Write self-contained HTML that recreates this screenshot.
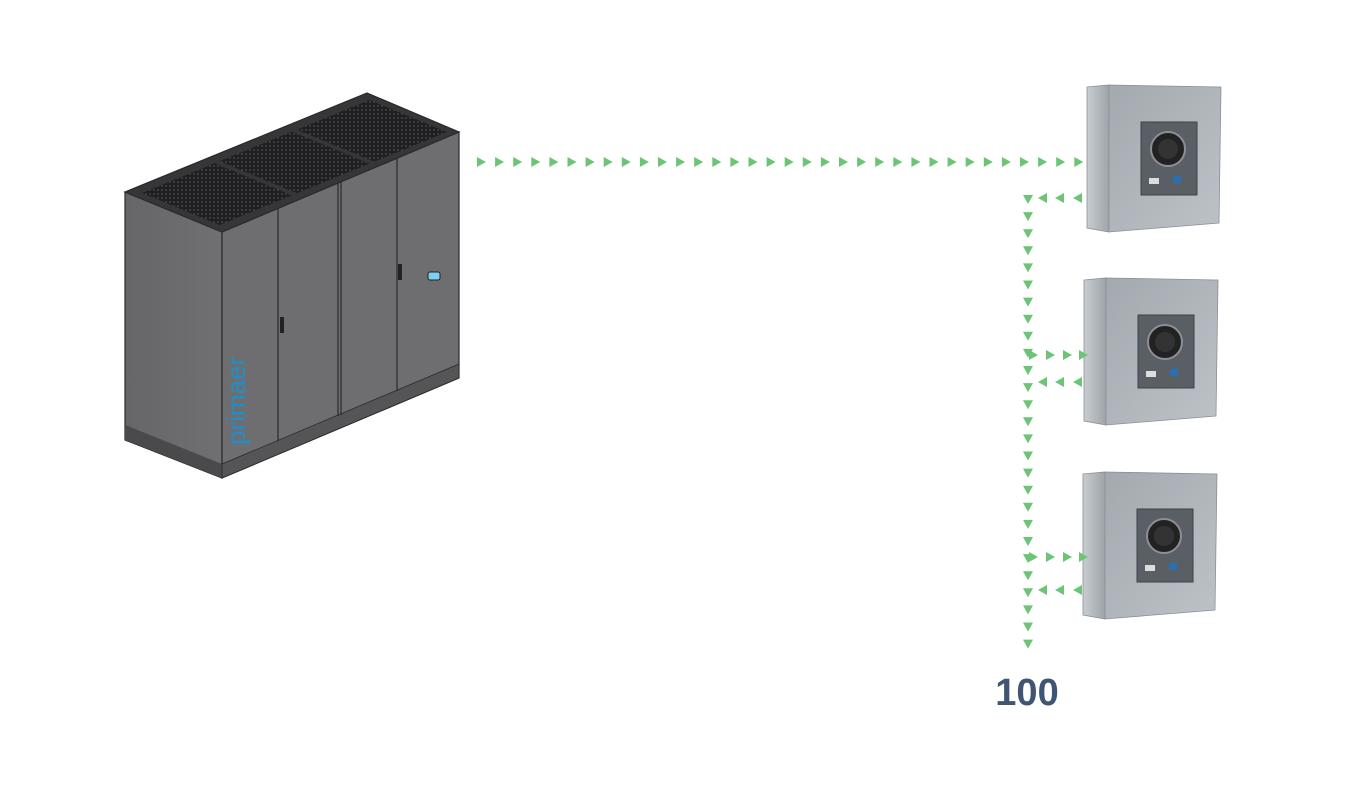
<!DOCTYPE html>
<html><head><meta charset="utf-8"><style>
html,body{margin:0;padding:0;background:#fff;width:1350px;height:805px;overflow:hidden}
svg{display:block}
</style></head><body>
<svg id="s" width="1350" height="805" viewBox="0 0 1350 805" xmlns="http://www.w3.org/2000/svg">
<defs>
<pattern id="grill" width="4" height="4" patternUnits="userSpaceOnUse">
<rect width="4" height="4" fill="#1f1f21"/><rect x="1" y="1" width="2" height="2" fill="#3c3c3f"/>
</pattern>
<linearGradient id="side" x1="0" y1="0" x2="1" y2="0"><stop offset="0" stop-color="#666669"/><stop offset="1" stop-color="#707073"/></linearGradient>
<linearGradient id="uf" x1="0" y1="0" x2="1" y2="1"><stop offset="0" stop-color="#a3a9ae"/><stop offset="1" stop-color="#bcc2c7"/></linearGradient>
<linearGradient id="us" x1="0" y1="0" x2="1" y2="0"><stop offset="0" stop-color="#c8cdd1"/><stop offset="1" stop-color="#9ea4a9"/></linearGradient>
<g id="unit">
<polygon points="0,2 22,0 22,147 0,143" fill="url(#us)" stroke="#8a9096" stroke-width="0.8"/>
<polygon points="22,0 134,2 132,138 22,147" fill="url(#uf)" stroke="#8a9096" stroke-width="0.8"/>
<rect x="54" y="37" width="56" height="73" fill="#5a5f66" stroke="#3e4248"/>
<circle cx="81" cy="64" r="17" fill="#222" stroke="#8c9096" stroke-width="2"/>
<circle cx="81" cy="64" r="10" fill="#333"/>
<rect x="62" y="93" width="10" height="6" fill="#ddd"/>
<rect x="86" y="91" width="8" height="7" fill="#2a6fb0"/>
</g>
</defs>
<polygon points="125,192 222,232 222,478 125,440" fill="url(#side)" stroke="#2a2a2a" stroke-width="1.2"/>
<polygon points="222,232 459,132 459,378 222,478" fill="#6e6e71" stroke="#2a2a2a" stroke-width="1.2"/>
<polygon points="125,192 367,93 459,132 222,232" fill="#363638" stroke="#2a2a2a" stroke-width="1.2"/>
<g id="gr"></g>
<polygon points="125,425 222,464 222,478 125,440" fill="#4a4a4c"/>
<polygon points="222,464 459,364 459,378 222,478" fill="#555557" stroke="#2a2a2a" stroke-width="0.8"/>
<g stroke="#2a2a2a" stroke-width="1.2">
<line x1="278" y1="208" x2="278" y2="441"/>
<line x1="338" y1="183" x2="338" y2="416"/>
<line x1="341" y1="182" x2="341" y2="415"/>
<line x1="397" y1="158" x2="397" y2="391"/>
</g>
<rect x="280" y="317" width="4" height="16" fill="#222"/>
<rect x="398" y="264" width="4" height="16" fill="#222"/>
<rect x="428" y="272" width="12" height="8" rx="2" fill="#7fd0f0" stroke="#222"/>
<text transform="translate(245,445) rotate(-90)" font-family="Liberation Sans, sans-serif" font-size="26" fill="#1f8fc8">primaer</text>
<use href="#unit" x="1087" y="85"/>
<use href="#unit" x="1084" y="278"/>
<use href="#unit" x="1083" y="472"/>
<text x="1027" y="705" text-anchor="middle" font-family="Liberation Sans, sans-serif" font-weight="bold" font-size="38" fill="#3f5572">100</text>
<g id="arr" fill="#6cc477"></g>
</svg>
<script>
var g=document.getElementById('arr'),h='';
function R(x,y){h+='<polygon points="'+(x-4)+','+(y-5)+' '+(x+5)+','+y+' '+(x-4)+','+(y+5)+'"/>';}
function L(x,y){h+='<polygon points="'+(x+4)+','+(y-5)+' '+(x-5)+','+y+' '+(x+4)+','+(y+5)+'"/>';}
function D(x,y){h+='<polygon points="'+(x-5)+','+(y-4)+' '+(x+5)+','+(y-4)+' '+x+','+(y+5)+'"/>';}
for(var i=0;i<34;i++)R(481+i*18.1,162);
[198,382,590].forEach(function(y){L(1043,y);L(1060,y);L(1078,y);});
[355,557].forEach(function(y){R(1033,y);R(1050,y);R(1067,y);R(1083,y);});
for(var y=199;y<=660;y+=17.1)D(1028,y);
g.innerHTML=h;
var A=[125,192],B=[367,93],Dd=[222,232];
function P(u,v){
 var x=A[0]+(B[0]-A[0])*u+(Dd[0]-A[0])*v, y=A[1]+(B[1]-A[1])*u+(Dd[1]-A[1])*v; return x.toFixed(1)+','+y.toFixed(1);}
var gg='';
[[0.03,0.33],[0.35,0.65],[0.67,0.97]].forEach(function(r){
 gg+='<polygon fill="url(#grill)" points="'+[P(r[0],0.1),P(r[1],0.1),P(r[1],0.9),P(r[0],0.9)].join(' ')+'"/>';});
document.getElementById('gr').innerHTML=gg;
</script>
</body></html>
